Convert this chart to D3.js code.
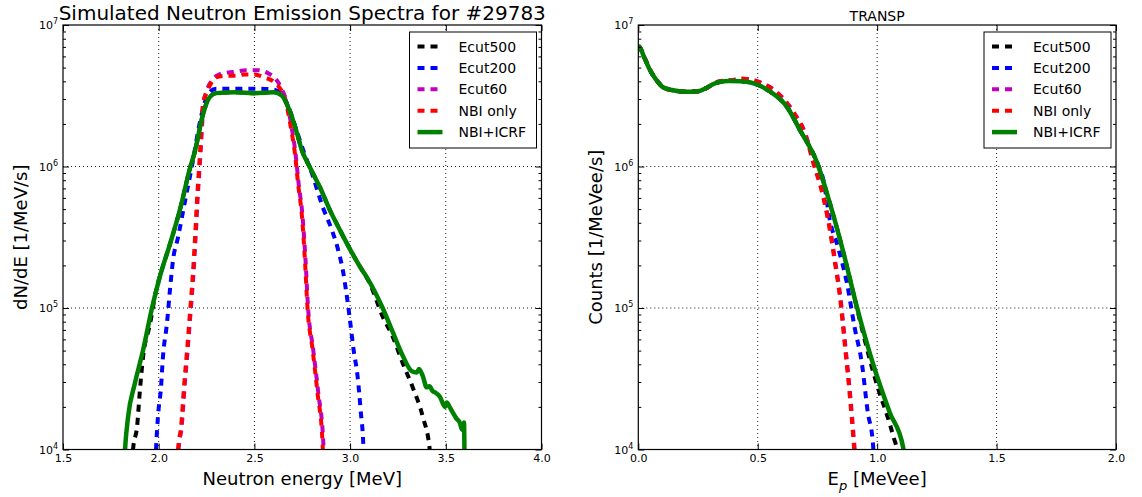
<!DOCTYPE html>
<html>
<head>
<meta charset="utf-8">
<title>Simulated Neutron Emission Spectra for #29783</title>
<script src="https://d3js.org/d3.v7.min.js"></script>
<style>
    body { margin: 0; background: #fff; }
    svg { font-family: "DejaVu Sans", sans-serif; }
</style>
</head>
<body>
<svg id="grafico" width="1142" height="497"></svg>
<script>
// ---- dados: [energia, contagem] ----
var seriesNames = ["Ecut500", "Ecut200", "Ecut60", "NBI only", "NBI+ICRF"];
var seriesColors = ["#000000", "#0000ff", "#bf00bf", "#ff0000", "#008000"];
var seriesDashed = [true, true, true, true, false];

// painel esquerdo: Neutron energy [MeV]
var ecut500Left = [[1.862, 8.0e3], [1.866, 1.0e4], [1.887, 1.45e4], [1.902, 2.63e4], [1.918, 4.47e4], [1.955, 7.76e4], [1.985, 1.3e5], [2.012, 1.78e5], [2.054, 2.69e5], [2.114, 5.13e5], [2.164, 9.8e5], [2.190, 1.29e6], [2.228, 2.24e6], [2.26, 3.0e6], [2.30, 3.3e6], [2.40, 3.35e6], [2.50, 3.3e6], [2.60, 3.35e6], [2.64, 3.2e6], [2.683, 2.5e6], [2.715, 1.86e6], [2.749, 1.29e6], [2.791, 9.8e5], [2.843, 7.1e5], [2.895, 4.9e5], [2.947, 3.55e5], [3.01, 2.45e5], [3.062, 1.86e5], [3.102, 1.5e5], [3.17, 8.7e4], [3.222, 6.3e4], [3.275, 4.07e4], [3.327, 2.75e4], [3.38, 1.7e4], [3.416, 1.0e4], [3.42, 8.0e3]];
var ecut200Left = [[1.983, 8.0e3], [1.986, 1.0e4], [1.996, 1.7e4], [2.012, 2.75e4], [2.022, 4.47e4], [2.043, 7.76e4], [2.059, 1.35e5], [2.075, 2.19e5], [2.101, 3.16e5], [2.138, 5.75e5], [2.179, 1.1e6], [2.21, 1.9e6], [2.24, 2.82e6], [2.27, 3.39e6], [2.30, 3.55e6], [2.40, 3.55e6], [2.50, 3.55e6], [2.60, 3.5e6], [2.64, 3.3e6], [2.68, 2.6e6], [2.72, 1.8e6], [2.76, 1.25e6], [2.801, 8.9e5], [2.858, 5.13e5], [2.905, 3.55e5], [2.94, 2.5e5], [2.963, 1.82e5], [2.98, 1.29e5], [2.997, 8.7e4], [3.018, 5.1e4], [3.039, 3.3e4], [3.055, 1.9e4], [3.07, 1.0e4], [3.072, 8.0e3]];
var ecut60Left = [[2.102, 8.0e3], [2.104, 1.0e4], [2.120, 1.45e4], [2.135, 2.75e4], [2.151, 5.0e4], [2.167, 9.5e4], [2.182, 1.78e5], [2.193, 3.16e5], [2.203, 5.75e5], [2.219, 1.26e6], [2.235, 2.82e6], [2.25, 3.4e6], [2.28, 4.1e6], [2.32, 4.5e6], [2.40, 4.68e6], [2.46, 4.79e6], [2.52, 4.79e6], [2.57, 4.57e6], [2.61, 4.17e6], [2.64, 3.6e6], [2.67, 2.8e6], [2.693, 1.95e6], [2.715, 1.23e6], [2.731, 7.6e5], [2.752, 4.37e5], [2.767, 2.19e5], [2.78, 1.02e5], [2.807, 5.1e4], [2.834, 2.5e4], [2.86, 1.12e4], [2.865, 8.0e3]];
var nbiOnlyLeft = [[2.099, 8.0e3], [2.101, 1.0e4], [2.117, 1.45e4], [2.132, 2.75e4], [2.148, 5.0e4], [2.164, 9.5e4], [2.179, 1.78e5], [2.19, 3.16e5], [2.20, 5.75e5], [2.216, 1.26e6], [2.232, 2.82e6], [2.25, 3.3e6], [2.27, 3.8e6], [2.30, 4.27e6], [2.35, 4.37e6], [2.40, 4.37e6], [2.45, 4.47e6], [2.50, 4.47e6], [2.55, 4.27e6], [2.60, 3.98e6], [2.63, 3.63e6], [2.66, 3.02e6], [2.69, 1.9e6], [2.712, 1.23e6], [2.728, 7.6e5], [2.749, 4.37e5], [2.764, 2.19e5], [2.777, 1.02e5], [2.804, 5.1e4], [2.83, 2.5e4], [2.856, 1.12e4], [2.86, 8.0e3]];
var nbiIcrfLeft = [[1.820, 8.0e3], [1.824, 1.0e4], [1.840, 1.7e4], [1.876, 2.95e4], [1.918, 5.0e4], [1.965, 1.0e5], [2.012, 1.78e5], [2.054, 2.69e5], [2.114, 5.13e5], [2.164, 9.8e5], [2.190, 1.29e6], [2.228, 2.24e6], [2.26, 3.0e6], [2.30, 3.3e6], [2.40, 3.35e6], [2.50, 3.3e6], [2.60, 3.35e6], [2.64, 3.2e6], [2.683, 2.5e6], [2.715, 1.86e6], [2.749, 1.29e6], [2.791, 9.8e5], [2.843, 7.1e5], [2.895, 4.9e5], [2.947, 3.55e5], [3.01, 2.45e5], [3.062, 1.86e5], [3.086, 1.66e5], [3.17, 1.0e5], [3.222, 6.8e4], [3.275, 4.6e4], [3.32, 3.6e4], [3.348, 3.5e4], [3.36, 3.7e4], [3.38, 3.3e4], [3.40, 2.75e4], [3.415, 2.8e4], [3.43, 2.6e4], [3.45, 2.5e4], [3.47, 2.35e4], [3.495, 2.0e4], [3.505, 2.15e4], [3.52, 2.0e4], [3.537, 1.82e4], [3.555, 1.66e4], [3.573, 1.55e4], [3.585, 1.38e4], [3.595, 1.55e4], [3.598, 8.0e3]];

// painel direito: E_p [MeVee]
var ecut500Right = [[0.0, 7.1e6], [0.007, 6.9e6], [0.025, 5.9e6], [0.049, 4.8e6], [0.075, 4.1e6], [0.103, 3.63e6], [0.14, 3.47e6], [0.20, 3.37e6], [0.25, 3.40e6], [0.28, 3.55e6], [0.31, 3.8e6], [0.34, 3.96e6], [0.38, 4.02e6], [0.43, 4.0e6], [0.47, 3.92e6], [0.51, 3.72e6], [0.551, 3.39e6], [0.623, 2.63e6], [0.676, 1.82e6], [0.748, 1.07e6], [0.802, 5.5e5], [0.856, 2.57e5], [0.93, 7.9e4], [0.975, 3.98e4], [1.01, 2.5e4], [1.04, 1.78e4], [1.07, 1.2e4], [1.082, 1.0e4], [1.085, 9.0e3]];
var ecut200Right = [[0.0, 7.1e6], [0.007, 6.9e6], [0.025, 5.9e6], [0.049, 4.8e6], [0.075, 4.1e6], [0.103, 3.63e6], [0.14, 3.47e6], [0.20, 3.37e6], [0.25, 3.40e6], [0.28, 3.55e6], [0.31, 3.8e6], [0.34, 3.96e6], [0.38, 4.02e6], [0.43, 4.0e6], [0.47, 3.92e6], [0.51, 3.72e6], [0.551, 3.39e6], [0.623, 2.63e6], [0.676, 1.82e6], [0.748, 1.07e6], [0.775, 8.0e5], [0.802, 4.17e5], [0.836, 2.69e5], [0.873, 1.51e5], [0.907, 7.1e4], [0.936, 4.07e4], [0.961, 1.82e4], [0.982, 1.12e4], [0.986, 9.0e3]];
var ecut60Right = [[0.002, 7.1e6], [0.009, 6.9e6], [0.027, 5.9e6], [0.051, 4.8e6], [0.077, 4.1e6], [0.105, 3.63e6], [0.142, 3.47e6], [0.202, 3.37e6], [0.252, 3.40e6], [0.282, 3.55e6], [0.312, 3.8e6], [0.342, 4.0e6], [0.386, 4.07e6], [0.442, 4.17e6], [0.502, 3.98e6], [0.552, 3.63e6], [0.602, 3.09e6], [0.652, 2.4e6], [0.702, 1.66e6], [0.734, 1.07e6], [0.775, 6.2e5], [0.804, 3.55e5], [0.825, 2.1e5], [0.846, 1.2e5], [0.867, 5.4e4], [0.888, 2.34e4], [0.905, 1.05e4], [0.908, 9.0e3]];
var nbiOnlyRight = [[0.0, 7.1e6], [0.007, 6.9e6], [0.025, 5.9e6], [0.049, 4.8e6], [0.075, 4.1e6], [0.103, 3.63e6], [0.14, 3.47e6], [0.20, 3.37e6], [0.25, 3.40e6], [0.28, 3.55e6], [0.31, 3.8e6], [0.34, 4.0e6], [0.384, 4.07e6], [0.44, 4.17e6], [0.50, 3.98e6], [0.55, 3.63e6], [0.60, 3.09e6], [0.65, 2.4e6], [0.70, 1.66e6], [0.732, 1.07e6], [0.773, 6.2e5], [0.802, 3.55e5], [0.823, 2.1e5], [0.844, 1.2e5], [0.865, 5.4e4], [0.886, 2.34e4], [0.903, 1.05e4], [0.906, 9.0e3]];
var nbiIcrfRight = [[0.0, 7.1e6], [0.007, 6.9e6], [0.025, 5.9e6], [0.049, 4.8e6], [0.075, 4.1e6], [0.103, 3.63e6], [0.14, 3.47e6], [0.20, 3.37e6], [0.25, 3.40e6], [0.28, 3.55e6], [0.31, 3.8e6], [0.34, 3.96e6], [0.38, 4.02e6], [0.43, 4.0e6], [0.47, 3.92e6], [0.51, 3.72e6], [0.551, 3.39e6], [0.623, 2.63e6], [0.676, 1.82e6], [0.748, 1.07e6], [0.802, 5.5e5], [0.856, 2.57e5], [0.915, 1.02e5], [0.982, 4.07e4], [1.053, 1.82e4], [1.108, 1.05e4], [1.115, 9.0e3]];

// ticks
var leftXTicks = [1.5, 2.0, 2.5, 3.0, 3.5, 4.0];
var rightXTicks = [0.0, 0.5, 1.0, 1.5, 2.0];
var yMajorTicks = [1e4, 1e5, 1e6, 1e7];

var svg = d3.select("#grafico");
var topo = 25, base = 449.5;

// minor ticks do eixo log (2..9 x 10^k)
var yMinorTicks = [];
[1e4, 1e5, 1e6].forEach(function (dec) {
    for (var m = 2; m <= 9; m++) yMinorTicks.push(m * dec);
});

function painel(cfg) {
    var x = d3.scaleLinear().domain(cfg.xDomain).range([cfg.left, cfg.right]);
    var y = d3.scaleLog().domain([1e4, 1e7]).range([base, topo]);
    var w = cfg.right - cfg.left;
    var g = svg.append("g");

    g.append("clipPath").attr("id", cfg.id + "-clip")
        .append("rect")
        .attr("x", cfg.left).attr("y", topo)
        .attr("width", w).attr("height", base - topo);

    // grade pontilhada
    g.append("g").selectAll("line").data(cfg.xTicks.slice(1, -1)).enter().append("line")
        .attr("x1", function (d) { return x(d); }).attr("x2", function (d) { return x(d); })
        .attr("y1", topo).attr("y2", base)
        .attr("stroke", "#000").attr("stroke-width", 0.9).attr("stroke-dasharray", "1,3");
    g.append("g").selectAll("line").data(yMajorTicks.slice(1, -1)).enter().append("line")
        .attr("x1", cfg.left).attr("x2", cfg.right)
        .attr("y1", function (d) { return y(d); }).attr("y2", function (d) { return y(d); })
        .attr("stroke", "#000").attr("stroke-width", 0.9).attr("stroke-dasharray", "1,3");

    // curvas
    var linha = d3.line()
        .x(function (d) { return x(d[0]); })
        .y(function (d) { return y(d[1]); })
        .curve(d3.curveMonotoneX);
    var curvas = g.append("g").attr("clip-path", "url(#" + cfg.id + "-clip)");
    cfg.series.forEach(function (s, i) {
        curvas.append("path")
            .attr("d", linha(s))
            .attr("fill", "none")
            .attr("stroke", seriesColors[i])
            .attr("stroke-width", seriesDashed[i] ? 4 : 4.5)
            .attr("stroke-dasharray", seriesDashed[i] ? "7,6" : null)
            .attr("stroke-linejoin", "round");
    });

    // eixos (ticks para dentro, nos quatro lados)
    var axB = g.append("g").attr("transform", "translate(0," + base + ")")
        .call(d3.axisBottom(x).tickValues(cfg.xTicks).tickSize(-6).tickPadding(5)
            .tickFormat(d3.format(".1f")));
    var axT = g.append("g").attr("transform", "translate(0," + topo + ")")
        .call(d3.axisTop(x).tickValues(cfg.xTicks).tickSize(-6).tickFormat(""));
    var axL = g.append("g").attr("transform", "translate(" + cfg.left + ",0)")
        .call(d3.axisLeft(y).tickValues(yMajorTicks).tickSize(-6).tickFormat(""));
    var axLm = g.append("g").attr("transform", "translate(" + cfg.left + ",0)")
        .call(d3.axisLeft(y).tickValues(yMinorTicks).tickSize(-3).tickFormat(""));
    var axR = g.append("g").attr("transform", "translate(" + cfg.right + ",0)")
        .call(d3.axisRight(y).tickValues(yMajorTicks).tickSize(-6).tickFormat(""));
    var axRm = g.append("g").attr("transform", "translate(" + cfg.right + ",0)")
        .call(d3.axisRight(y).tickValues(yMinorTicks).tickSize(-3).tickFormat(""));
    [axB, axT, axL, axLm, axR, axRm].forEach(function (a) {
        a.select(".domain").remove();
        a.selectAll("line").attr("stroke", "#000").attr("stroke-width", 1);
        a.selectAll("text").attr("font-family", "DejaVu Sans").attr("font-size", 11).attr("fill", "#000");
    });

    // moldura
    g.append("rect")
        .attr("x", cfg.left).attr("y", topo).attr("width", w).attr("height", base - topo)
        .attr("fill", "none").attr("stroke", "#000").attr("stroke-width", 1.2);

    // rotulos 10^n
    var rot = g.append("g").selectAll("text").data(yMajorTicks).enter().append("text")
        .attr("x", cfg.left - 5)
        .attr("y", function (d) { return y(d) + 4; })
        .attr("text-anchor", "end")
        .attr("font-size", 11);
    rot.append("tspan").text("10");
    rot.append("tspan").attr("dy", -5).attr("font-size", 8)
        .text(function (d) { return Math.round(Math.log10(d)); });

    // rotulos dos eixos
    var xl = g.append("text")
        .attr("x", (cfg.left + cfg.right) / 2).attr("y", 485)
        .attr("text-anchor", "middle").attr("font-size", 18);
    cfg.xLabel(xl);
    g.append("text")
        .attr("transform", "translate(" + (cfg.left - 36) + "," + ((topo + base) / 2) + ") rotate(-90)")
        .attr("text-anchor", "middle").attr("font-size", 18)
        .text(cfg.yLabel);

    // titulo
    g.append("text")
        .attr("x", (cfg.left + cfg.right) / 2).attr("y", cfg.titleY)
        .attr("text-anchor", "middle").attr("font-size", cfg.titleSize)
        .text(cfg.title);

    // legenda
    var lx = cfg.right - 132, ly = 32;
    var leg = g.append("g").attr("transform", "translate(" + lx + "," + ly + ")");
    leg.append("rect").attr("width", 127).attr("height", 116)
        .attr("fill", "#fff").attr("stroke", "#000").attr("stroke-width", 1);
    seriesNames.forEach(function (nome, i) {
        var yy = 14.5 + i * 21.4;
        leg.append("line")
            .attr("x1", 8).attr("x2", 33).attr("y1", yy).attr("y2", yy)
            .attr("stroke", seriesColors[i])
            .attr("stroke-width", seriesDashed[i] ? 4 : 4.5)
            .attr("stroke-dasharray", seriesDashed[i] ? "7,6" : null);
        leg.append("text").attr("x", 49).attr("y", yy + 5)
            .attr("font-size", 14).text(nome);
    });
}

painel({
    id: "esq", left: 63, right: 541.5, xDomain: [1.5, 4.0], xTicks: leftXTicks,
    series: [ecut500Left, ecut200Left, ecut60Left, nbiOnlyLeft, nbiIcrfLeft],
    xLabel: function (t) { t.text("Neutron energy [MeV]"); },
    yLabel: "dN/dE [1/MeV/s]",
    title: "Simulated Neutron Emission Spectra for #29783", titleY: 20, titleSize: 20
});

painel({
    id: "dir", left: 638.3, right: 1116, xDomain: [0.0, 2.0], xTicks: rightXTicks,
    series: [ecut500Right, ecut200Right, ecut60Right, nbiOnlyRight, nbiIcrfRight],
    xLabel: function (t) {
        t.append("tspan").text("E");
        t.append("tspan").attr("dy", 5).attr("font-size", 13).attr("font-style", "italic").text("p");
        t.append("tspan").attr("dy", -5).text(" [MeVee]");
    },
    yLabel: "Counts [1/MeVee/s]",
    title: "TRANSP", titleY: 21, titleSize: 14
});
</script>
</body>
</html>
